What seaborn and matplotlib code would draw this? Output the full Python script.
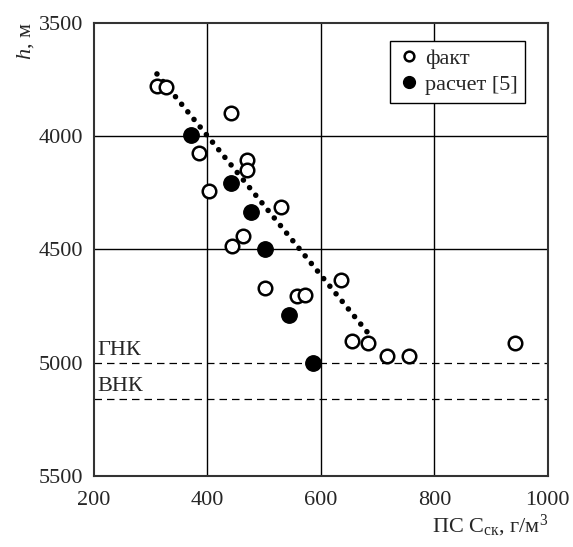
import numpy as np
import pandas as pd
import seaborn as sns
import matplotlib.pyplot as plt
from matplotlib.lines import Line2D

# measured values (open circles)
fact_x = [311, 327, 441, 385, 403, 470, 470, 443, 463, 530, 501, 558, 572, 635, 655, 683, 716, 755, 942]
fact_h = [3779, 3784, 3898, 4075, 4243, 4106, 4150, 4485, 4441, 4313, 4670, 4706, 4701, 4635, 4904, 4913, 4970, 4970, 4913]

# calculated values [5] (filled circles)
calc_x = [371, 441, 477, 501, 544, 586]
calc_h = [3995, 4207, 4335, 4498, 4789, 5001]

# trend line end points
trend_x = [311, 683]
trend_h = [3726, 4869]

gnk = 5000
vnk = 5160

fact = pd.DataFrame({"x": fact_x, "h": fact_h})
calc = pd.DataFrame({"x": calc_x, "h": calc_h})
trend = pd.DataFrame({"x": trend_x, "h": trend_h})

sns.set_theme(style="white")
plt.rcParams["font.family"] = ["Liberation Serif", "DejaVu Serif"]
plt.rcParams["mathtext.fontset"] = "custom"
plt.rcParams["mathtext.rm"] = "Liberation Serif"
plt.rcParams["mathtext.it"] = "Liberation Serif:italic"

fig = plt.figure(figsize=(5.73, 5.47), dpi=100)
ax = fig.add_axes([0.164, 0.1298, 0.792, 0.8287])

ax.set_xlim(200, 1000)
ax.set_ylim(5500, 3500)
ax.set_xticks([200, 400, 600, 800, 1000])
ax.set_yticks([3500, 4000, 4500, 5000, 5500])
# grid drawn by hand: the 5000 level is the dashed ГНК line
for gx in [400, 600, 800]:
    ax.axvline(gx, color="black", linewidth=1.0, zorder=1)
for gy in [4000, 4500]:
    ax.axhline(gy, color="black", linewidth=1.0, zorder=1)
for s in ax.spines.values():
    s.set_color("#333333")
    s.set_linewidth(1.5)

ax.axhline(gnk, color="black", linewidth=0.9, dashes=(6, 4), zorder=2)
ax.axhline(vnk, color="black", linewidth=0.9, dashes=(6, 4), zorder=2)
ax.text(206, gnk - 14, "ГНК", fontsize=16, va="bottom", ha="left")
ax.text(206, vnk - 14, "ВНК", fontsize=16, va="bottom", ha="left")

sns.lineplot(data=trend, x="x", y="h", ax=ax, color="black", linewidth=4.0,
             linestyle=(0, (0.01, 1.75)), dash_capstyle="round", zorder=3)
sns.scatterplot(data=fact, x="x", y="h", ax=ax, s=95, facecolor="white",
                edgecolor="black", linewidth=1.8, zorder=4)
sns.scatterplot(data=calc, x="x", y="h", ax=ax, s=125, color="black",
                edgecolor="black", zorder=5)

ax.tick_params(axis="both", labelsize=16, length=0)
ax.tick_params(axis="x", pad=11)
ax.tick_params(axis="y", pad=8)
ax.set_xlabel(r"ПС C$_{\mathregular{ск}}$, г/м$^{3}$", fontsize=16, loc="right", labelpad=2)
ax.set_ylabel(r"$h$, м", fontsize=16, loc="top", labelpad=2)

handles = [
    Line2D([], [], marker="o", linestyle="none", markerfacecolor="white",
           markeredgecolor="black", markeredgewidth=1.8, markersize=7),
    Line2D([], [], marker="o", linestyle="none", color="black", markersize=8.5),
]
leg = ax.legend(handles, ["факт", "расчет [5]"], loc="upper right", fontsize=16,
                frameon=True, fancybox=False, edgecolor="black", framealpha=1,
                handletextpad=0.2, borderpad=0.35, handlelength=1.0,
                labelspacing=0.25, bbox_to_anchor=(0.975, 0.985))
leg.get_frame().set_linewidth(1.0)

fig.savefig("out.png", dpi=100)
